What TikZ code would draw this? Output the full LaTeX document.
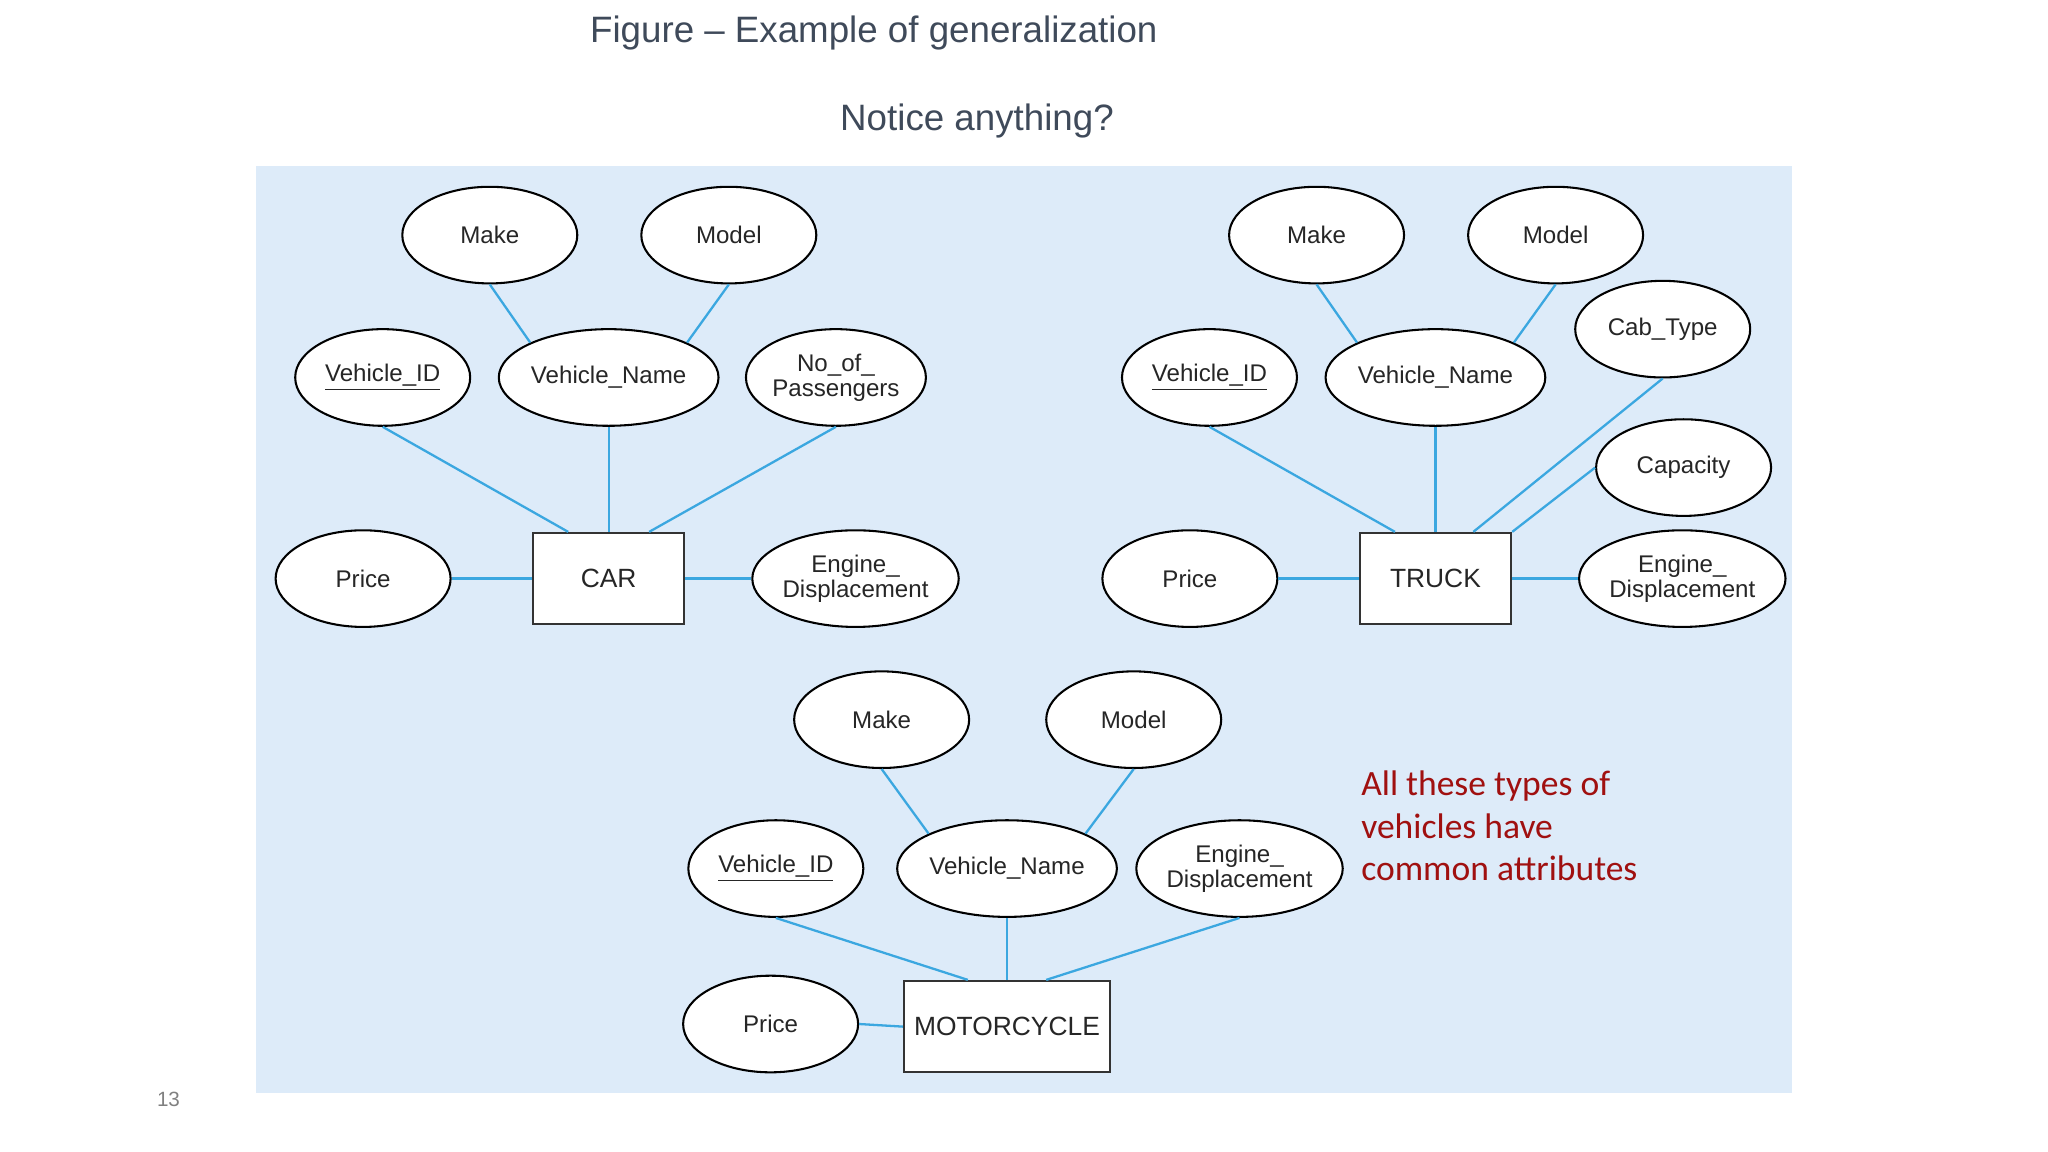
\documentclass[tikz,border=0pt]{standalone}
\usepackage{fontspec}
\setmainfont{Liberation Sans}
\newfontfamily\calib{Carlito}
\usetikzlibrary{shapes.geometric}
\definecolor{panel}{HTML}{DDEBF9}
\definecolor{conn}{HTML}{3BA7E0}
\definecolor{ttl}{HTML}{3F4A5A}
\definecolor{dred}{HTML}{A01010}
\begin{document}
\begin{tikzpicture}[x=0.02cm,y=-0.02cm,
  attr/.style={ellipse,draw=black,fill=white,line width=0.9pt,minimum width=2.68cm,minimum height=1.48cm,inner sep=0pt,align=center,font=\fontsize{10.5}{11}\selectfont,text=black!85},
  ent/.style={rectangle,draw=black!80,fill=white,line width=0.9pt,minimum height=1.4cm,font=\fontsize{11.5}{12}\selectfont,text=black!85},
  cn/.style={draw=conn,line width=1pt}]
\useasboundingbox (0,0) rectangle (1568,882);
\fill[panel] (196,127) rectangle (1372,837);
\node[text=ttl,font=\fontsize{16}{18}\selectfont] (t1) at (669,25) {Figure – Example of generalization};
\node[text=ttl,font=\fontsize{16}{18}\selectfont] (t2) at (748,93) {Notice anything?};
\node[text=gray,font=\fontsize{9}{10}\selectfont] (pg) at (129,842) {13};
% CAR
\node[attr] (cmake) at (375,180) {Make};
\node[attr] (cmodel) at (558,180) {Model};
\node[attr] (cvid) at (293,289) {\underline{Vehicle\_ID}};
\node[attr] (cvn) at (466,289) {Vehicle\_Name};
\node[attr] (cnop) at (640,289) {No\_of\_\\Passengers};
\node[attr] (cprice) at (278,443) {Price};
\node[ent,minimum width=2.32cm] (car) at (466,443) {CAR};
\node[attr] (ceng) at (655,443) {Engine\_\\Displacement};
\draw[cn] (cmake.south) -- (cvn.north west) ;
\draw[cn] (cmodel.south) -- (cvn.north east);
\draw[cn] (cvid.south) -- ([xshift=-0.62cm]car.north);
\draw[cn] (cvn.south) -- (car.north);
\draw[cn] (cnop.south) -- ([xshift=0.62cm]car.north);
\draw[cn] (cprice.east) -- (car.west);
\draw[cn] (car.east) -- (ceng.west);
% TRUCK
\node[attr] (tmake) at (1008,180) {Make};
\node[attr] (tmodel) at (1191,180) {Model};
\node[attr] (tcab) at (1273,252) {Cab\_Type};
\node[attr] (tvid) at (926,289) {\underline{Vehicle\_ID}};
\node[attr] (tvn) at (1099,289) {Vehicle\_Name};
\node[attr] (tcap) at (1289,358) {Capacity};
\node[attr] (tprice) at (911,443) {Price};
\node[ent,minimum width=2.32cm] (truck) at (1099,443) {TRUCK};
\node[attr] (teng) at (1288,443) {Engine\_\\Displacement};
\draw[cn] (tmake.south) -- (tvn.north west);
\draw[cn] (tmodel.south) -- (tvn.north east);
\draw[cn] (tvid.south) -- ([xshift=-0.62cm]truck.north);
\draw[cn] (tvn.south) -- (truck.north);
\draw[cn] (tcab.south) -- ([xshift=0.58cm]truck.north);
\draw[cn] (tcap.west) -- (truck.north east);
\draw[cn] (tprice.east) -- (truck.west);
\draw[cn] (truck.east) -- (teng.west);
% MOTORCYCLE
\node[attr] (mmake) at (675,551) {Make};
\node[attr] (mmodel) at (868,551) {Model};
\node[attr] (mvid) at (594,665) {\underline{Vehicle\_ID}};
\node[attr] (mvn) at (771,665) {Vehicle\_Name};
\node[attr] (meng) at (949,665) {Engine\_\\Displacement};
\node[attr] (mprice) at (590,784) {Price};
\node[ent,minimum width=3.16cm] (moto) at (771,786) {MOTORCYCLE};
\draw[cn] (mmake.south) -- (mvn.north west);
\draw[cn] (mmodel.south) -- (mvn.north east);
\draw[cn] (mvid.south) -- ([xshift=-0.6cm]moto.north);
\draw[cn] (mvn.south) -- (moto.north);
\draw[cn] (meng.south) -- ([xshift=0.6cm]moto.north);
\draw[cn] (mprice.east) -- (moto.west);
\node[text=dred,align=left,anchor=north west,font=\calib\fontsize{15.5}{18.5}\selectfont] (note) at (1036,584) {All these types of\\vehicles have\\common attributes};
\end{tikzpicture}
\end{document}
